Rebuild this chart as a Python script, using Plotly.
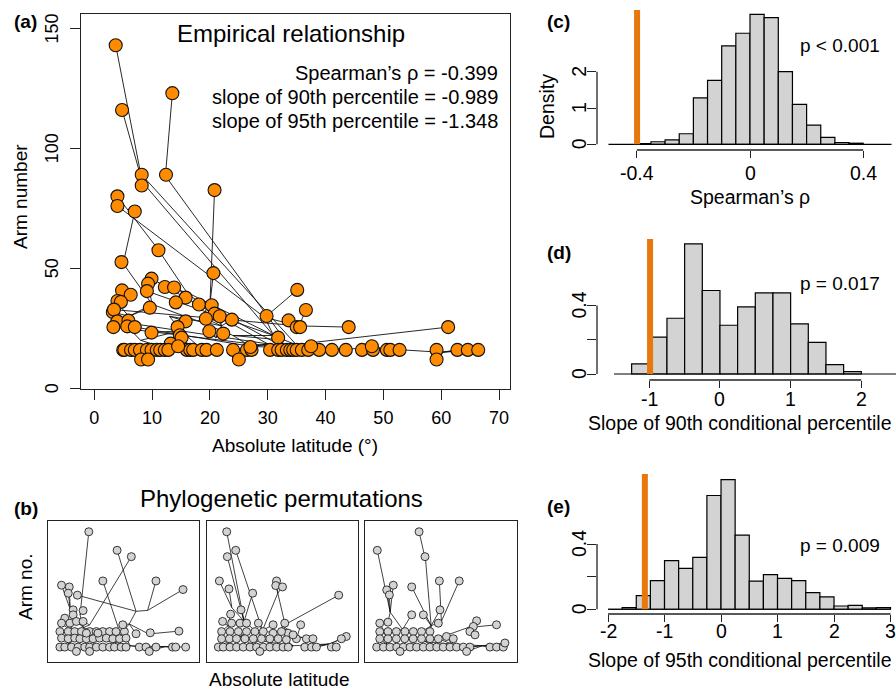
import plotly.graph_objects as go

W, H = 896, 691
FONT = "Liberation Sans, Arial, sans-serif"
ORANGE_PT = "#FF8C00"
ORANGE_LN = "#E8770E"
GREY = "#D3D3D3"

# ---------------- panel (a): empirical phylomorphospace ----------------
# tips above the 16-arm row
a_up_lat = [3.7, 13.5, 4.8, 8.2, 12.4, 8.2, 20.8, 4.0, 4.0, 7.0,
            11.1, 4.7, 20.6, 9.9, 9.3, 12.2, 13.8, 35.1, 4.8, 9.1,
            6.3, 15.8, 4.0, 4.6, 18.1, 20.3, 14.1, 9.6, 36.6, 3.2,
            3.4, 20.8, 21.7, 29.8, 19.3, 23.8, 33.6, 4.0, 5.9, 15.8,
            5.7, 3.3, 7.0, 14.4, 35.0, 35.6, 44.0, 61.2, 9.9, 19.9,
            22.3, 14.8, 15.1, 31.8, 13.2]
a_up_arm = [143, 123, 116, 89, 89, 84.5, 82.6, 80, 76, 73.7,
            57.5, 52.6, 48, 45.7, 43.6, 42.2, 42, 41, 40.8, 40.5,
            39, 37.8, 36.4, 36, 34.9, 34.6, 35.8, 33.6, 32.6, 31.8,
            32.8, 31.1, 30, 30.1, 29, 28.6, 28.3, 27.9, 28.2, 27.9,
            25.8, 25.5, 25.5, 25.5, 25.5, 25.5, 25.5, 25.5, 23.2, 23.75,
            22.8, 22.1, 21.1, 21.1, 18.6]
a_up_par = [1, 2, 1, 5, 2, 1, 12, 6, 8, 9,
            6, 9, 12, 31, 10, 7, 25, 8, 16, 3,
            16, 29, 16, 16, 12, 12, 29, 15, 13, 15,
            13, 18, 18, 8, 18, 18, 13, 31, 15, 17,
            20, 25, 24, 19, 13, 13, 13, 14, 19, 30,
            30, 19, 19, 3, 23]
# the 16-arm row
a_r16_lat = [5.0, 5.2, 6.35, 7.0, 7.9, 9.1, 9.9, 10.8, 11.4, 12.2,
             12.8, 16.0, 16.6, 17.1, 18.6, 19.4, 21.2, 24.0, 26.4, 27.2,
             30.4, 31.8, 32.4, 33.3, 33.9, 34.4, 35.0, 35.9, 37.0, 38.9,
             41.1, 43.5, 46.3, 48.2, 50.6, 51.2, 52.8, 59.2, 62.8, 64.6, 66.4]
a_r16_arm = [16, 16, 16, 16, 16, 16, 16, 16, 16, 16,
             16, 16, 16, 16, 16, 16, 16, 16, 16, 16,
             16, 16, 16, 16, 16, 16, 16, 16, 16, 16,
             16, 16, 16, 16, 16, 16, 16, 16, 16, 16, 16]
a_r16_par = [22, 22, 22, 22, 22, 21, 21, 21, 21, 21,
             21, 23, 23, 23, 23, 23, 23, 24, 24, 24,
             31, 31, 31, 25, 25, 25, 25, 25, 26, 26,
             26, 26, 27, 27, 27, 27, 27, 28, 28, 28, 28]
# lowest row and a few in between
a_low_lat = [8.1, 9.3, 25.0, 59.2, 37.5, 48.0, 14.5, 27.0]
a_low_arm = [12, 12, 12, 12, 17.5, 17.5, 17.5, 17.2]
a_low_par = [32, 32, 24, 28, 14, 27, 23, 31]
# hidden ancestral nodes of the tree
a_node_lat = [24, 8.3, 12.3, 31, 33, 35, 11, 16, 29.5, 5.0,
              10, 18, 20.0, 35.4, 37.5, 6, 4.5, 13, 22, 15,
              8, 12, 6, 18, 27, 33, 40, 50, 60, 14.5,
              21, 30, 9]
a_node_arm = [22, 86, 88.5, 22, 20, 18, 58, 40, 29.5, 52,
              35, 28, 35, 26, 19, 30, 34, 30, 26, 24,
              20, 17, 17, 17.5, 17.5, 16.8, 16.5, 16.5, 15, 33,
              21, 18.5, 14]
a_node_par = [-1, 3, 4, 0, 0, 4, 7, 3, 3, 10,
              11, 0, 11, 8, 5, 10, 15, 11, 11, 17,
              19, 20, 21, 19, 0, 24, 25, 26, 27, 7,
              18, 24, 21]

# ---------------- panel (b): three phylogenetic permutations ----------------
b1_lat = [17.6, 31.5, 38.5, 4.2, 8.0, 24.5, 50.6, 63.9, 7.5, 12.0,
          14.8, 61.9, 47.8, 40.8, 9.9, 5.8, 9.9, 4.2, 8.3, 11.5,
          14.8, 3.4, 7.5, 10.7, 14.0, 18.0, 21.3, 24.5, 27.8, 31.0,
          35.1, 4.2, 7.5, 10.7, 13.2, 16.4, 19.7, 22.9, 26.2, 29.4,
          32.7, 35.9, 34.3, 16.4, 22.1,
          3.4, 5.8, 9.1, 12.3, 15.6, 18.0, 21.3, 24.5, 27.8, 30.2,
          33.5, 35.9, 42.4, 45.7, 50.6, 58.7, 60.3, 65.2, 11.5, 18.0, 47.3]
b1_arm = [143.8, 123.3, 116.3, 84.8, 82.9, 89.5, 89.5, 80, 76, 73.8,
          56.8, 34.1, 32.3, 31.2, 57.6, 48.4, 52.1, 42.9, 42.9, 44.8,
          44.8, 33.6, 33.6, 33.6, 33.6, 33.6, 33.6, 33.6, 33.6, 33.6,
          33.6, 26.4, 25.7, 26.4, 25.7, 25.7, 25.7, 26.4, 26.4, 25.7,
          25.7, 26.4, 41.1, 31.9, 31.9,
          16.5, 16.5, 16.5, 16.5, 16.5, 16.5, 16.5, 16.5, 16.5, 16.5,
          16.5, 16.5, 16.5, 16.5, 16.5, 16.5, 16.5, 16.5, 11.7, 11.7, 11.7]
b1_par = [1, 3, 6, 7, 7, 8, 4, 4, 7, 3,
          1, 9, 9, 5, 7, 10, 7, 10, 10, 2,
          6, 10, 10, 10, 2, 11, 11, 8, 8, 8,
          8, 12, 12, 12, 11, 11, 11, 11, 11, 0,
          0, 14, 5, 11, 11,
          12, 12, 12, 12, 13, 13, 13, 13, 13, 14,
          14, 14, 14, 15, 15, 15, 15, 15, 12, 13, 15]
b1_node_lat = [30, 13.3, 15, 40.8, 46.5, 37.5, 18, 8.5, 32.5, 47, 10, 20, 8, 20, 38, 55]
b1_node_arm = [22, 52, 38, 56, 57, 42, 41, 58, 35, 31, 32, 27, 20, 19, 18, 17]
b1_node_par = [-1, 2, 0, 5, 3, 0, 2, 2, 0, 5, 2, 0, 10, 11, 0, 14]

b2_lat = [7.5, 7.8, 11.9, 3.9, 8.6, 20.2, 31.9, 31.5, 34.8, 62.3,
          9.4, 14.5, 43.7, 35.9, 30.2, 66.0, 63.6, 46.5, 49.7, 37.5,
          41.6, 5.5, 9.9, 14.0, 17.2, 23.0, 5.0, 9.1, 13.2, 17.2,
          21.3, 25.4, 30.2, 34.3, 5.0, 8.8, 12.3, 16.4, 20.5, 24.5,
          28.6, 32.7, 36.7, 40.0,
          3.4, 5.8, 9.1, 12.3, 15.6, 18.9, 22.1, 25.4, 28.6, 31.9,
          35.1, 37.6, 45.7, 49.0, 51.4, 58.7, 61.1, 23.7]
b2_arm = [143.8, 116.3, 123.3, 89.5, 80.7, 76, 89.5, 84.4, 82.9, 73.8,
          52.8, 57.6, 41.1, 42.9, 41.1, 28.2, 25.7, 25.7, 25.7, 31.9,
          25.7, 44.8, 42.9, 42.9, 42.9, 42.9, 33.6, 33.6, 33.6, 33.6,
          33.6, 33.6, 31.8, 33.6, 25.7, 25.7, 25.7, 25.7, 25.7, 25.7,
          25.7, 25.7, 24.6, 30,
          16.5, 16.5, 16.5, 16.5, 16.5, 16.5, 16.5, 16.5, 16.5, 16.5,
          16.5, 16.5, 16.5, 16.5, 16.5, 16.5, 16.5, 11.7]
b2_par = [2, 2, 4, 1, 1, 2, 3, 3, 3, 5,
          6, 2, 12, 3, 4, 11, 11, 12, 12, 5,
          12, 6, 6, 2, 2, 4, 6, 6, 7, 7,
          4, 4, 4, 5, 8, 8, 7, 7, 9, 9,
          0, 0, 10, 12,
          8, 8, 8, 8, 9, 9, 9, 9, 10, 10,
          10, 10, 11, 11, 11, 11, 11, 9]
b2_node_lat = [28, 10, 16, 32.5, 25, 35, 8, 14, 8, 20, 40, 58, 42]
b2_node_arm = [22, 60, 45, 76, 35, 40, 40, 28, 20, 19, 18, 20, 28]
b2_node_par = [-1, 2, 0, 4, 0, 0, 2, 0, 7, 7, 0, 10, 5]

b3_lat = [24.1, 27.0, 3.7, 43.7, 34.0, 20.5, 11.5, 8.3, 9.6, 34.3,
          61.9, 52.2, 50.6, 26.2, 20.5, 33.5, 4.9, 8.9, 4.9, 8.9,
          13.0, 17.2, 21.3, 25.3, 29.4, 4.9, 8.9, 13.0, 17.1, 21.2,
          25.3, 29.4, 33.5, 37.5, 48.9, 40.8, 51.4,
          3.4, 6.7, 9.9, 13.2, 16.4, 19.7, 22.9, 26.2, 29.4, 32.7,
          35.9, 39.2, 42.4, 45.7, 48.9, 58.7, 61.9, 65.2, 66.0, 14.8, 47.3]
b3_arm = [143.8, 116.3, 123.3, 89.5, 89.5, 82.9, 84.8, 79.6, 74.1, 57.6,
          41.1, 45.5, 39.3, 52.1, 52.1, 42.9, 42.9, 44, 33.6, 33.6,
          33.6, 33.6, 33.6, 33.6, 33.6, 25.7, 25.7, 25.7, 25.7, 25.7,
          25.7, 25.7, 25.7, 28.2, 33.6, 25.7, 30,
          16.5, 16.5, 16.5, 16.5, 16.5, 16.5, 16.5, 16.5, 16.5, 16.5,
          16.5, 16.5, 16.5, 16.5, 16.5, 16.5, 16.5, 16.5, 21, 11.7, 11.7]
b3_par = [1, 1, 3, 5, 5, 2, 3, 3, 3, 2,
          6, 6, 6, 2, 4, 5, 7, 3, 7, 7,
          4, 4, 8, 2, 2, 9, 9, 8, 8, 8,
          0, 0, 11, 11, 6, 11, 6,
          9, 9, 9, 9, 10, 10, 10, 10, 11, 11,
          11, 11, 11, 12, 12, 12, 12, 12, 12, 9, 12]
b3_node_lat = [28, 27.3, 30, 10, 16, 35, 48, 8, 20, 8, 22, 40, 55]
b3_node_arm = [22, 112, 40, 55, 36, 45, 38, 30, 27, 20, 19, 20, 18]
b3_node_par = [-1, 2, 0, 4, 0, 2, 0, 4, 0, 7, 8, 0, 11]

# ---------------- panels (c)-(e): null distributions ----------------
c_breaks = [-0.4, -0.35, -0.3, -0.25, -0.2, -0.15, -0.1, -0.05, 0.0,
            0.05, 0.1, 0.15, 0.2, 0.25, 0.3, 0.35, 0.4]
c_density = [0.02, 0.07, 0.12, 0.29, 1.28, 1.76, 2.71, 3.06, 3.58,
             3.49, 2.0, 1.10, 0.53, 0.19, 0.05, 0.03]
d_breaks = [-1.25, -1.0, -0.75, -0.5, -0.25, 0.0, 0.25, 0.5, 0.75,
            1.0, 1.25, 1.5, 1.75, 2.0]
d_density = [0.059, 0.215, 0.326, 0.761, 0.488, 0.285, 0.392, 0.474,
             0.474, 0.293, 0.185, 0.055, 0.014]
e_breaks = [-2.0, -1.75, -1.5, -1.25, -1.0, -0.75, -0.5, -0.25, 0.0,
            0.25, 0.5, 0.75, 1.0, 1.25, 1.5, 1.75, 2.0, 2.25, 2.5, 2.75, 3.0]
e_density = [0.0, 0.01, 0.084, 0.176, 0.298, 0.251, 0.318, 0.698, 0.796,
             0.455, 0.173, 0.212, 0.190, 0.176, 0.102, 0.076, 0.020,
             0.024, 0.008, 0.01]
observed = [-0.399, -0.989, -1.348]
p_labels = ["p < 0.001", "p = 0.017", "p = 0.009"]
stat_lines = ["Spearman\u2019s \u03c1 = -0.399",
              "slope of 90th percentile = -0.989",
              "slope of 95th percentile = -1.348"]
a_yticks = [0, 50, 100, 150]
c_yticks = [0, 1, 2]
d_yticks = [0, 0.2, 0.4]
e_yticks = [0, 0.2, 0.4]
d_ytick_text = ["0", "", "0.4"]
c_xticks = [-0.4, 0, 0.4]
c_xtick_text = ["-0.4", "0", "0.4"]
d_xticks = [-1, 0, 1, 2]
e_xticks = [-2, -1, 0, 1, 2, 3]


def segs(tlat, tarm, tpar, nlat, narm, npar):
    xs, ys = [], []
    for x, y, p in zip(tlat, tarm, tpar):
        xs += [x, nlat[p], None]
        ys += [y, narm[p], None]
    for x, y, p in zip(nlat, narm, npar):
        if p >= 0:
            xs += [x, nlat[p], None]
            ys += [y, narm[p], None]
    return xs, ys


def px_x(p):
    return p / W


def px_y(p):
    return 1 - p / H


fig = go.Figure()

# panel a
a_lat = a_up_lat + a_r16_lat + a_low_lat
a_arm = a_up_arm + a_r16_arm + a_low_arm
a_par = a_up_par + a_r16_par + a_low_par
lx, ly = segs(a_lat, a_arm, a_par, a_node_lat, a_node_arm, a_node_par)
fig.add_trace(go.Scatter(x=lx, y=ly, mode="lines", line=dict(color="#111", width=0.9),
                         xaxis="x", yaxis="y", hoverinfo="skip"))
fig.add_trace(go.Scatter(x=a_lat, y=a_arm, mode="markers",
                         marker=dict(size=13, color=ORANGE_PT, line=dict(color="#111", width=1.1)),
                         xaxis="x", yaxis="y"))

# panel b
for k, (tl, ta, tp, nl, na, npr) in enumerate([
        (b1_lat, b1_arm, b1_par, b1_node_lat, b1_node_arm, b1_node_par),
        (b2_lat, b2_arm, b2_par, b2_node_lat, b2_node_arm, b2_node_par),
        (b3_lat, b3_arm, b3_par, b3_node_lat, b3_node_arm, b3_node_par)]):
    ax = str(k + 2)
    sx, sy = segs(tl, ta, tp, nl, na, npr)
    fig.add_trace(go.Scatter(x=sx, y=sy, mode="lines", line=dict(color="#111", width=0.8),
                             xaxis="x" + ax, yaxis="y" + ax, hoverinfo="skip"))
    fig.add_trace(go.Scatter(x=tl, y=ta, mode="markers",
                             marker=dict(size=8, color=GREY, line=dict(color="#222", width=0.9)),
                             xaxis="x" + ax, yaxis="y" + ax))

# histograms
hists = [(c_breaks, c_density, "5", (-0.5, 0.5), 3.70),
         (d_breaks, d_density, "6", (-1.5, 2.5), 0.789),
         (e_breaks, e_density, "7", (-2.0, 3.0), 0.830)]
for (br, dens, ax, base, top), obs in zip(hists, observed):
    fig.add_trace(go.Scatter(x=list(base), y=[0, 0], mode="lines",
                             line=dict(color="black", width=1.2),
                             xaxis="x" + ax, yaxis="y" + ax, hoverinfo="skip"))
    centers = [(br[i] + br[i + 1]) / 2 for i in range(len(dens))]
    widths = [br[i + 1] - br[i] for i in range(len(dens))]
    fig.add_trace(go.Bar(x=centers, y=dens, width=widths, base=0,
                         marker=dict(color=GREY, line=dict(color="black", width=1.2)),
                         xaxis="x" + ax, yaxis="y" + ax))
    fig.add_trace(go.Scatter(x=[obs, obs], y=[0, top], mode="lines",
                             line=dict(color=ORANGE_LN, width=6),
                             xaxis="x" + ax, yaxis="y" + ax, hoverinfo="skip"))

tickfont = dict(family=FONT, size=18, color="black")

layout = dict(
    width=W, height=H, margin=dict(l=0, r=0, t=0, b=0),
    paper_bgcolor="white", plot_bgcolor="white", showlegend=False,
    font=dict(family=FONT, color="black"),
)
# panel a axes
layout["xaxis"] = dict(domain=[px_x(81), px_x(510)], range=[-2.3, 71.9], anchor="y",
                       tickvals=[0, 10, 20, 30, 40, 50, 60, 70], ticks="outside", ticklen=10,
                       tickwidth=1.2, tickcolor="#222", showline=True, mirror=True,
                       linecolor="#222", linewidth=1.4, showgrid=False, zeroline=False,
                       tickfont=tickfont, ticklabelstandoff=2)
layout["yaxis"] = dict(domain=[px_y(389), px_y(14)], range=[-0.3, 156], anchor="x",
                       tickvals=a_yticks, showticklabels=False, ticks="outside", ticklen=10,
                       tickwidth=1.2, tickcolor="#222", showline=True, mirror=True,
                       linecolor="#222", linewidth=1.4, showgrid=False, zeroline=False)
# panel b axes
for k, (l, r) in enumerate([(48.3, 199.3), (206.7, 358.3), (365, 517)]):
    ax = str(k + 2)
    layout["xaxis" + ax] = dict(domain=[px_x(l), px_x(r)], range=[-2.3, 71.9], anchor="y" + ax,
                                showticklabels=False, ticks="", showline=True, mirror=True,
                                linecolor="#222", linewidth=1.4, showgrid=False, zeroline=False)
    layout["yaxis" + ax] = dict(domain=[px_y(662.3), px_y(520.7)], range=[-0.3, 156],
                                anchor="x" + ax, showticklabels=False, ticks="", showline=True,
                                mirror=True, linecolor="#222", linewidth=1.4, showgrid=False,
                                zeroline=False)
# histogram axes
hax = [("5", (10, 150), (-0.5406, 0.5159), (-0.157, 3.70), c_xticks, c_yticks),
       ("6", (239, 380), (-1.740, 2.491), (-0.035, 0.789), d_xticks, d_yticks),
       ("7", (474, 614), (-2.195, 3.097), (-0.029, 0.830), e_xticks, e_yticks)]
shapes = []
for ax, (top, bot), xr, yr, xt, yt in hax:
    layout["xaxis" + ax] = dict(domain=[px_x(597), 1.0], range=list(xr), anchor="y" + ax,
                                tickvals=xt, showticklabels=False, ticks="outside", ticklen=7,
                                tickwidth=1.2, tickcolor="#222", showline=False, showgrid=False,
                                zeroline=False)
    layout["yaxis" + ax] = dict(domain=[px_y(bot), px_y(top)], range=list(yr), anchor="x" + ax,
                                tickvals=yt, showticklabels=False, ticks="outside",
                                ticklen=9, tickwidth=1.2, tickcolor="#222", showline=False,
                                showgrid=False, zeroline=False)
    shapes.append(dict(type="line", xref="x" + ax, yref="y" + ax + " domain",
                       x0=xt[0], x1=xt[-1], y0=0, y1=0, line=dict(color="#222", width=1.3)))
    shapes.append(dict(type="line", xref="x" + ax + " domain", yref="y" + ax,
                       x0=0, x1=0, y0=yt[0], y1=yt[-1], line=dict(color="#222", width=1.3)))
layout["shapes"] = shapes


def ann(text, x, y, size, xanchor="center", angle=0, bold=False):
    t = "<b>" + text + "</b>" if bold else text
    return dict(text=t, x=px_x(x), y=px_y(y), xref="paper", yref="paper", showarrow=False,
                xanchor=xanchor, yanchor="middle", textangle=angle,
                font=dict(family=FONT, size=size, color="black"))


def ytick_ann(text, x, yval, yref, size):
    return dict(text=text, x=px_x(x), y=yval, xref="paper", yref=yref, showarrow=False,
                xanchor="center", yanchor="middle", textangle=-90,
                font=dict(family=FONT, size=size, color="black"))


def xtick_ann(text, xval, xref, y, size):
    return dict(text=text, x=xval, y=px_y(y), xref=xref, yref="paper", showarrow=False,
                xanchor="center", yanchor="middle",
                font=dict(family=FONT, size=size, color="black"))


anns = [
    ann("(a)", 12, 22, 19, "left", bold=True),
    ann("(b)", 12, 508, 19, "left", bold=True),
    ann("(c)", 545, 22, 19, "left", bold=True),
    ann("(d)", 545, 252, 19, "left", bold=True),
    ann("(e)", 545, 507, 19, "left", bold=True),
    ann("Empirical relationship", 291, 33, 24),
    ann("Arm number", 20, 197, 19, angle=-90),
    ann("Absolute latitude (\u00b0)", 295, 445, 19),
    ann("Phylogenetic permutations", 281, 498, 24),
    ann("Arm no.", 25, 587, 19, angle=-90),
    ann("Absolute latitude", 279, 679, 19),
    ann("Density", 547, 107, 19.5, angle=-90),
    ann("Spearman\u2019s \u03c1", 750, 197, 19.5),
    ann("Slope of 90th conditional percentile", 740, 423, 19.5),
    ann("Slope of 95th conditional percentile", 740, 660, 19.5),
]
for v in a_yticks:
    anns.append(ytick_ann(str(v), 52, v, "y", 18))
for v in c_yticks:
    anns.append(ytick_ann(str(v), 579, v, "y5", 19.5))
for v, t in zip(d_yticks, d_ytick_text):
    if t:
        anns.append(ytick_ann(t, 579, v, "y6", 19.5))
for v, t in zip(e_yticks, d_ytick_text):
    if t:
        anns.append(ytick_ann(t, 579, v, "y7", 19.5))
for v, t in zip(c_xticks, c_xtick_text):
    anns.append(xtick_ann(t, v, "x5", 173, 19.5))
for v in d_xticks:
    anns.append(xtick_ann(str(v), v, "x6", 399, 19.5))
for v in e_xticks:
    anns.append(xtick_ann(str(v), v, "x7", 631, 19.5))
for i, s in enumerate(stat_lines):
    anns.append(ann(s, 500, 73 + 24 * i, 20, "right"))
for s, yy in zip(p_labels, [45, 283, 545]):
    anns.append(ann(s, 798, yy, 19, "left"))
layout["annotations"] = anns

fig.update_layout(**layout)
fig.write_html("out.html", config={"displayModeBar": False},
               post_script="document.body.style.margin='0px';"
                           "document.body.style.overflow='hidden';"
                           "document.documentElement.style.overflow='hidden';")
